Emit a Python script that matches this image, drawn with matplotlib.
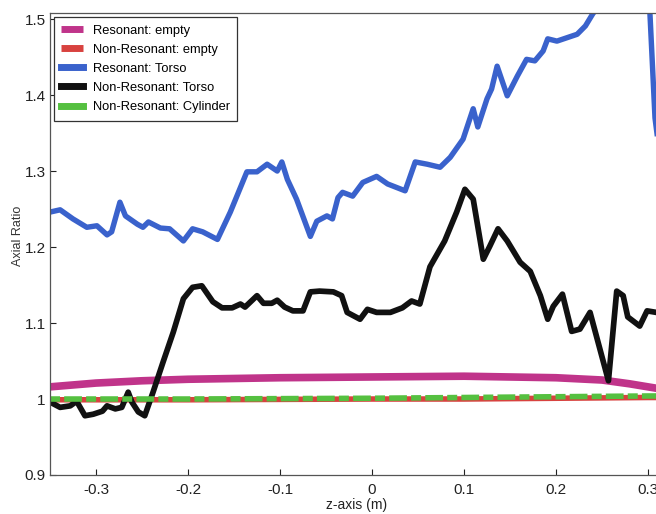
import matplotlib
matplotlib.use("Agg")
import matplotlib.pyplot as plt
from matplotlib.ticker import FuncFormatter

plt.rcParams['font.family'] = ['Liberation Sans Narrow', 'Liberation Sans', 'DejaVu Sans']

# ---- data ----
res_torso_x = [-0.350, -0.339, -0.325, -0.310, -0.299, -0.288, -0.283, -0.274, -0.268, -0.255,
               -0.249, -0.243, -0.230, -0.220, -0.205, -0.195, -0.184, -0.168, -0.154, -0.136,
               -0.125, -0.114, -0.103, -0.098, -0.092, -0.082, -0.067, -0.060, -0.049, -0.043,
               -0.037, -0.032, -0.021, -0.010, 0.005, 0.017, 0.036, 0.047, 0.060, 0.074,
               0.085, 0.099, 0.110, 0.115, 0.125, 0.130, 0.136, 0.147, 0.158, 0.168,
               0.177, 0.186, 0.191, 0.201, 0.223, 0.232, 0.240,
               0.260, 0.300, 0.302, 0.3076, 0.315]
res_torso_y = [1.246, 1.249, 1.237, 1.226, 1.228, 1.216, 1.220, 1.259, 1.241, 1.230,
               1.226, 1.233, 1.225, 1.224, 1.208, 1.224, 1.220, 1.210, 1.246, 1.299,
               1.299, 1.309, 1.300, 1.312, 1.289, 1.263, 1.214, 1.234, 1.241, 1.237,
               1.265, 1.272, 1.267, 1.285, 1.293, 1.283, 1.274, 1.312, 1.309, 1.305,
               1.318, 1.342, 1.382, 1.358, 1.395, 1.408, 1.438, 1.399, 1.425, 1.447,
               1.445, 1.458, 1.474, 1.471, 1.480, 1.491, 1.507,
               1.540, 1.600, 1.510, 1.370, 1.300]

nr_torso_x = [-0.350, -0.339, -0.328, -0.321, -0.312, -0.303, -0.293, -0.288, -0.279, -0.272,
              -0.265, -0.261, -0.254, -0.247, -0.238, -0.227, -0.216, -0.205, -0.195, -0.185,
              -0.173, -0.163, -0.152, -0.143, -0.138, -0.125, -0.118, -0.109, -0.103, -0.095,
              -0.086, -0.075, -0.067, -0.057, -0.042, -0.033, -0.027, -0.013, -0.005, 0.005,
              0.020, 0.033, 0.043, 0.052, 0.063, 0.079, 0.092, 0.101, 0.110, 0.121,
              0.128, 0.137, 0.147, 0.161, 0.172, 0.183, 0.191, 0.197, 0.207, 0.217,
              0.226, 0.237, 0.257, 0.266, 0.273, 0.278, 0.291, 0.299, 0.309, 0.320]
nr_torso_y = [0.996, 0.989, 0.991, 0.997, 0.978, 0.980, 0.984, 0.991, 0.987, 0.989,
              1.009, 0.996, 0.983, 0.978, 1.009, 1.049, 1.088, 1.132, 1.147, 1.149,
              1.128, 1.120, 1.120, 1.125, 1.121, 1.136, 1.126, 1.126, 1.130, 1.121,
              1.116, 1.116, 1.141, 1.142, 1.141, 1.136, 1.114, 1.105, 1.118, 1.114,
              1.114, 1.120, 1.129, 1.125, 1.174, 1.208, 1.246, 1.276, 1.263, 1.184,
              1.201, 1.224, 1.208, 1.180, 1.168, 1.136, 1.105, 1.122, 1.138, 1.089,
              1.092, 1.114, 1.024, 1.142, 1.136, 1.108, 1.096, 1.116, 1.114, 1.110]

res_empty_x = [-0.35, -0.30, -0.25, -0.20, -0.10, 0.00, 0.10, 0.20, 0.25, 0.28, 0.31, 0.35]
res_empty_y = [1.016, 1.021, 1.024, 1.026, 1.028, 1.029, 1.030, 1.028, 1.025, 1.020, 1.014, 1.008]

nr_empty_x = [-0.35, -0.20, 0.00, 0.10, 0.20, 0.30, 0.35]
nr_empty_y = [0.999, 0.999, 1.000, 1.000, 1.001, 1.002, 1.002]

nr_cyl_x = [-0.35, -0.20, 0.00, 0.10, 0.20, 0.30, 0.35]
nr_cyl_y = [1.000, 1.000, 1.001, 1.002, 1.003, 1.004, 1.004]

labels = ['Resonant: empty', 'Non-Resonant: empty', 'Resonant: Torso',
          'Non-Resonant: Torso', 'Non-Resonant: Cylinder']
colors = ['#C0348A', '#D8423F', '#3A62CC', '#111111', '#55C040']

x_ticks = [-0.3, -0.2, -0.1, 0.0, 0.1, 0.2, 0.3]
y_ticks = [0.9, 1.0, 1.1, 1.2, 1.3, 1.4, 1.5]

# ---- figure ----
W, H = 656, 514
fig = plt.figure(figsize=(W / 100, H / 100), dpi=100)
ax_left, ax_right, ax_top, ax_bot = 50, 694, 13, 475
aw, ah = ax_right - ax_left, ax_bot - ax_top
ax = fig.add_axes([ax_left / W, 1 - ax_bot / H, aw / W, ah / H])

ax.plot(res_empty_x, res_empty_y, color=colors[0], lw=5.5, label=labels[0], solid_capstyle='butt')
ax.plot(nr_empty_x, nr_empty_y, color=colors[1], lw=4.0, label=labels[1], solid_capstyle='butt')
ax.plot(res_torso_x, res_torso_y, color=colors[2], lw=3.9, label=labels[2], solid_joinstyle='round')
ax.plot(nr_torso_x, nr_torso_y, color=colors[3], lw=4.1, label=labels[3], solid_joinstyle='round')
ax.plot(nr_cyl_x, nr_cyl_y, color=colors[4], lw=4.0, label=labels[4],
        dashes=(1.8, 0.75, 3.2, 0.75), dash_capstyle='butt')

ax.set_xlim(-0.35, 0.35)
ax.set_ylim(0.9, 1.508)
ax.set_xticks(x_ticks)
ax.set_yticks(y_ticks)
fmt = FuncFormatter(lambda v, p: '%g' % round(v, 3))
ax.xaxis.set_major_formatter(fmt)
ax.yaxis.set_major_formatter(fmt)
ax.tick_params(direction='in', length=4, width=0.8, labelsize=11, colors='#222222')
ax.tick_params(axis='x', pad=6)
ax.tick_params(axis='y', pad=3)
for s in ax.spines.values():
    s.set_color('#555555')
    s.set_linewidth(0.9)

ax.set_xlabel('z-axis (m)', fontsize=10, color='#222222')
ax.xaxis.set_label_coords((357 - ax_left) / aw, -(505 - ax_bot) / ah)
ax.xaxis.label.set_va('center')
ax.set_ylabel('Axial Ratio', fontsize=9, color='#333333')
ax.yaxis.set_label_coords((18 - ax_left) / aw, (ax_bot - 236) / ah)
ax.yaxis.label.set_va('center')

leg = ax.legend(loc='upper left', bbox_to_anchor=(4 / aw, 1 - 4 / ah), borderaxespad=0,
                fontsize=9.3, frameon=True, fancybox=False, framealpha=1, edgecolor='#333333',
                handlelength=1.65, handletextpad=0.78, labelspacing=0.55, borderpad=0.58)
leg.get_frame().set_linewidth(0.9)
for h in leg.get_lines():
    h.set_linewidth(5)
    h.set_linestyle('-')

fig.savefig('out.png', dpi=100)
